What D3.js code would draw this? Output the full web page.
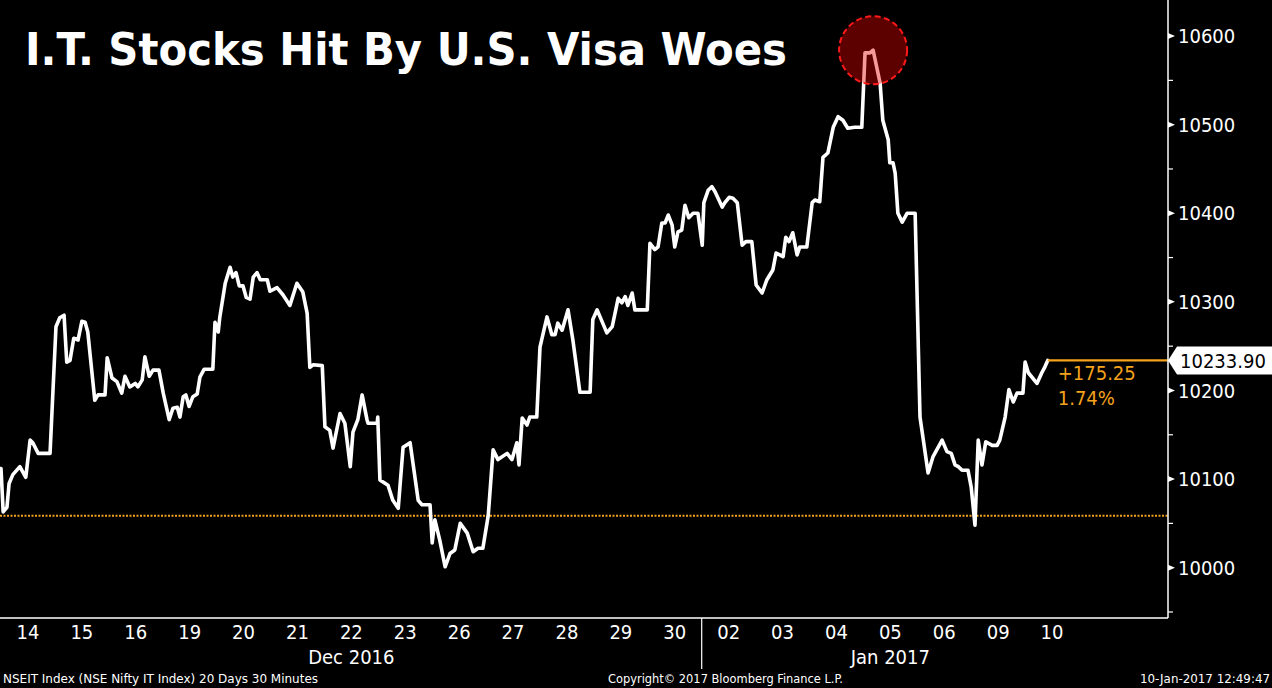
<!DOCTYPE html>
<html><head><meta charset="utf-8">
<script src="https://cdn.jsdelivr.net/npm/d3@7"></script>
<style>
html,body{margin:0;padding:0;background:#000;overflow:hidden}
svg{display:block}
text{font-family:"DejaVu Sans Condensed","DejaVu Sans",sans-serif;font-stretch:condensed}
</style></head><body>
<svg id="chart" width="1272" height="688"></svg>
<script>
// ---------- data ----------
const titleText = "I.T. Stocks Hit By U.S. Visa Woes";
const dayLabels = ["14","15","16","19","20","21","22","23","26","27","28","29","30","02","03","04","05","06","09","10"];
const monthLabels = ["Dec 2016", "Jan 2017"];
const monthFirstDay = [0, 13];
const monthLastDay = [13, 20];
// session position measured in trading days from the open of 14 Dec (30-minute bars)
const sessionTimes = [
0.00,0.04,0.11,0.15,0.22,0.35,0.46,0.54,0.59,0.69,
0.91,1.02,1.09,1.17,1.22,1.28,1.35,1.43,1.50,1.56,
1.61,1.74,1.80,1.93,1.97,2.06,2.15,2.24,2.30,2.39,
2.49,2.54,2.62,2.67,2.75,2.82,2.93,3.01,3.12,3.19,
3.27,3.32,3.38,3.43,3.49,3.56,3.64,3.69,3.77,3.93,
3.97,4.03,4.06,4.16,4.25,4.30,4.36,4.42,4.49,4.55,
4.62,4.68,4.75,4.81,4.94,4.99,5.12,5.23,5.36,5.49,
5.60,5.68,5.73,5.79,5.96,6.01,6.10,6.16,6.29,6.38,
6.48,6.53,6.62,6.70,6.79,6.81,6.98,6.99,7.03,7.18,
7.27,7.37,7.46,7.59,7.74,7.81,7.96,8.00,8.05,8.14,
8.24,8.33,8.42,8.52,8.65,8.76,8.85,8.94,9.04,9.13,
9.22,9.39,9.48,9.57,9.61,9.67,9.76,9.81,9.94,10.00,
10.13,10.22,10.28,10.33,10.41,10.52,10.61,10.74,10.93,10.98,
11.06,11.24,11.34,11.45,11.52,11.58,11.63,11.71,11.76,11.99,
12.04,12.13,12.19,12.26,12.32,12.38,12.45,12.50,12.56,12.63,
12.69,12.76,12.84,12.93,13.01,13.04,13.12,13.19,13.25,13.38,
13.43,13.51,13.58,13.66,13.75,13.82,13.93,14.01,14.12,14.21,
14.32,14.38,14.45,14.51,14.56,14.62,14.69,14.77,14.82,14.95,
15.05,15.10,15.19,15.25,15.34,15.44,15.53,15.62,15.71,15.84,
15.97,16.03,16.12,16.18,16.31,16.36,16.46,16.49,16.55,16.59,
16.64,16.72,16.81,16.96,17.05,17.20,17.29,17.46,17.55,17.63,
17.70,17.76,17.83,17.94,18.00,18.07,18.13,18.20,18.27,18.39,
18.48,18.53,18.63,18.70,18.78,18.85,18.96,19.00,19.06,19.22,
19.31,19.37,19.42
];
const prices = [
10112,10063,10068,10095,10105,10114,10102,10144,10141,10129,
10129,10272,10282,10285,10232,10234,10259,10257,10278,10277,
10266,10189,10195,10195,10237,10214,10210,10197,10216,10204,
10208,10204,10212,10238,10216,10223,10223,10197,10167,10180,
10181,10170,10193,10195,10182,10193,10196,10215,10224,10224,
10277,10266,10283,10321,10339,10328,10333,10318,10318,10305,
10303,10328,10333,10325,10325,10312,10316,10308,10296,10321,
10311,10287,10226,10229,10228,10159,10155,10135,10174,10163,
10114,10153,10167,10195,10167,10163,10163,10170,10099,10093,
10076,10067,10136,10141,10076,10071,10071,10028,10054,10031,
10001,10016,10020,10050,10039,10018,10022,10022,10059,10133,
10122,10129,10122,10141,10116,10169,10161,10170,10170,10249,
10283,10263,10263,10276,10268,10291,10257,10198,10198,10280,
10291,10265,10272,10304,10299,10306,10296,10310,10291,10291,
10366,10359,10362,10389,10389,10398,10387,10362,10379,10381,
10409,10395,10400,10400,10364,10412,10426,10430,10424,10407,
10412,10418,10417,10412,10364,10368,10368,10319,10310,10325,
10336,10355,10353,10351,10373,10368,10378,10353,10362,10362,
10412,10415,10413,10463,10468,10497,10509,10505,10496,10497,
10497,10581,10581,10584,10547,10505,10483,10457,10457,10445,
10400,10390,10400,10400,10170,10107,10125,10144,10131,10129,
10116,10114,10110,10110,10091,10048,10144,10116,10142,10138,
10138,10144,10170,10201,10187,10197,10197,10232,10220,10208,
10220,10227,10233.90
];
const previousClose = 10058.65;
const lastPrice = 10233.90;
const changeText = "+175.25";
const changePctText = "1.74%";
const yMajorTicks = [10000,10100,10200,10300,10400,10500,10600];
const yMinorTicks = [9950,10050,10150,10250,10350,10450,10550];
const footerLeft = "NSEIT Index (NSE Nifty IT Index) 20 Days 30 Minutes";
const footerMid = "Copyright\u00A9 2017 Bloomberg Finance L.P.";
const footerRight = "10-Jan-2017 12:49:47";

// ---------- layout ----------
const W = 1272, H = 688;
const axisX = 1168, axisY = 618;
const ORANGE = "#f5a21c";

const svg = d3.select("#chart");
svg.append("rect").attr("width", W).attr("height", H).attr("fill", "#000");

const x = d3.scaleLinear().domain([0, dayLabels.length]).range([1, 1079]);
const y = d3.scaleLinear().domain([9943.2, 10640.7]).range([axisY, 0]);

const series = sessionTimes.map((t, i) => ({t, v: prices[i]})).slice(0, Math.min(sessionTimes.length, prices.length));

// previous close dotted line
svg.append("line")
  .attr("x1", 0).attr("x2", axisX)
  .attr("y1", y(previousClose)).attr("y2", y(previousClose))
  .attr("stroke", ORANGE).attr("stroke-width", 2)
  .attr("stroke-dasharray", "2,1.5");

// price line
svg.append("path")
  .datum(series)
  .attr("d", d3.line().x(d => x(d.t)).y(d => y(d.v)))
  .attr("fill", "none").attr("stroke", "#fff")
  .attr("stroke-width", 3.6).attr("stroke-linejoin", "round").attr("stroke-linecap", "round");

// last price orange line
const last = series[series.length - 1];
svg.append("line")
  .attr("x1", x(last.t)).attr("x2", axisX)
  .attr("y1", y(lastPrice)).attr("y2", y(lastPrice))
  .attr("stroke", ORANGE).attr("stroke-width", 2.2);

svg.append("text").attr("x", x(last.t) + 10).attr("y", y(lastPrice) + 20)
  .attr("fill", ORANGE).attr("font-size", 20).text(changeText);
svg.append("text").attr("x", x(last.t) + 10).attr("y", y(lastPrice) + 45)
  .attr("fill", ORANGE).attr("font-size", 20).text(changePctText);

// highlight circle at peak
const peak = series.reduce((a, b) => (b.v > a.v ? b : a));
svg.append("circle")
  .attr("cx", x(peak.t)).attr("cy", y(peak.v)).attr("r", 34)
  .attr("fill", "rgb(230,0,0)").attr("fill-opacity", 0.4)
  .attr("stroke", "#ff1a1a").attr("stroke-width", 2)
  .attr("stroke-dasharray", "6,3.5");

// axes lines
svg.append("line").attr("x1", 0).attr("x2", axisX).attr("y1", axisY).attr("y2", axisY)
  .attr("stroke", "#fff").attr("stroke-width", 1.5);
svg.append("line").attr("x1", axisX).attr("x2", axisX).attr("y1", 0).attr("y2", axisY)
  .attr("stroke", "#fff").attr("stroke-width", 1.5);

// y ticks
const yg = svg.append("g");
yMinorTicks.forEach(v => {
  yg.append("line").attr("x1", axisX).attr("x2", axisX + 5)
    .attr("y1", y(v)).attr("y2", y(v)).attr("stroke", "#fff").attr("stroke-width", 1.2);
});
yMajorTicks.forEach(v => {
  const yy = y(v);
  yg.append("path").attr("d", `M${axisX},${yy - 3}L${axisX + 7},${yy}L${axisX},${yy + 3}Z`).attr("fill", "#fff");
  yg.append("text").attr("x", axisX + 10).attr("y", yy).attr("dy", "0.36em")
    .attr("fill", "#fff").attr("font-size", 20).text(d3.format("d")(v));
});

// last price tag
const ly = y(lastPrice);
svg.append("path")
  .attr("d", `M${axisX},${ly}L${axisX + 9},${ly - 14}L${W},${ly - 14}L${W},${ly + 14}L${axisX + 9},${ly + 14}Z`)
  .attr("fill", "#fff");
svg.append("text").attr("x", axisX + 12).attr("y", ly).attr("dy", "0.36em")
  .attr("fill", "#000").attr("font-size", 20).text(d3.format(".2f")(lastPrice));

// x labels
dayLabels.forEach((lab, i) => {
  svg.append("text").attr("x", x(i + 0.5)).attr("y", 639)
    .attr("text-anchor", "middle").attr("fill", "#fff").attr("font-size", 20).text(lab);
});
monthLabels.forEach((lab, i) => {
  svg.append("text").attr("x", (x(monthFirstDay[i]) + x(monthLastDay[i])) / 2).attr("y", 664)
    .attr("text-anchor", "middle").attr("fill", "#fff").attr("font-size", 20).text(lab);
});
// month separator
svg.append("line").attr("x1", x(monthFirstDay[1])).attr("x2", x(monthFirstDay[1]))
  .attr("y1", axisY).attr("y2", 669).attr("stroke", "#fff").attr("stroke-width", 1.2);

// title
svg.append("text").attr("x", 25).attr("y", 65)
  .attr("fill", "#fff").attr("font-size", 44).attr("font-weight", "bold")
  .attr("textLength", 762).attr("lengthAdjust", "spacingAndGlyphs")
  .text(titleText);

// footer
svg.append("text").attr("x", 3).attr("y", 683).attr("fill", "#fff").attr("font-size", 12)
  .attr("textLength", 315).attr("lengthAdjust", "spacingAndGlyphs").text(footerLeft);
svg.append("text").attr("x", 608).attr("y", 683).attr("fill", "#fff").attr("font-size", 12)
  .attr("textLength", 235).attr("lengthAdjust", "spacingAndGlyphs").text(footerMid);
svg.append("text").attr("x", 1140).attr("y", 683).attr("fill", "#fff").attr("font-size", 12)
  .attr("textLength", 130).attr("lengthAdjust", "spacingAndGlyphs").text(footerRight);
</script>
</body></html>
